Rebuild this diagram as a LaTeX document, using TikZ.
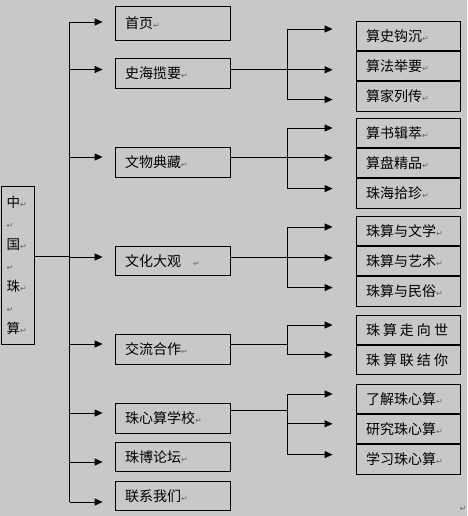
\documentclass[tikz,border=0pt]{standalone}
\usepackage{fontspec}
\usepackage{xcolor}
\usepackage{tikz}
\usetikzlibrary{arrows.meta, positioning}

\newfontfamily\cjk{Noto Sans CJK SC}
\newfontfamily\markfont{DejaVu Sans}
\definecolor{bggray}{RGB}{200,200,200}
\definecolor{markgray}{RGB}{105,105,105}
\newcommand{\ret}{{\markfont\fontsize{8}{8}\selectfont\color{markgray}↵}}

\begin{document}
\begin{tikzpicture}[x=1pt, y=-1pt,
    mainbox/.style={rectangle, draw=black, line width=0.8pt, text width=95pt, inner xsep=10pt, inner ysep=0pt, align=left, minimum height=29.5pt, font=\cjk\fontsize{14}{16}\selectfont},
    subbox/.style={mainbox, text width=84pt},
    rootbox/.style={rectangle, draw=black, line width=0.8pt, text width=22pt, inner xsep=5.5pt, inner ysep=0pt, align=left, minimum height=158pt, font=\cjk\fontsize{13.5}{21}\selectfont},
    line/.style={draw, line width=0.8pt},
    arr/.style={line, -{Triangle[length=8pt, width=7pt]}, shorten >=12pt},
    subarr/.style={arr, shorten >=23pt}]

    \fill [bggray] (0,0) rectangle (467,516);
    \useasboundingbox (0,0) rectangle (467,516);

    % root
    \node [rootbox] (root) at (17.5,265) {中\ret\\ \ret\\ 国\ret\\ \ret\\ 珠\ret\\ \ret\\ 算\ret};

    % main column
    \node [mainbox, minimum height=34pt] (home) at (172.5,23) {首页\ret};
    \node [mainbox] (hist) at (172.5,73.5) {史海揽要\ret};
    \node [mainbox] (relic) at (172.5,162.5) {文物典藏\ret};
    \node [mainbox] (culture) at (172.5,261) {文化大观\hspace{12pt}\ret};
    \node [mainbox] (exch) at (172.5,349.5) {交流合作\ret};
    \node [mainbox] (school) at (172.5,418.5) {珠心算学校\ret};
    \node [mainbox] (forum) at (172.5,457) {珠博论坛\ret};
    \node [mainbox] (contact) at (172.5,496) {联系我们\ret};

    % sub columns
    \node [subbox] (g1a) at (408,35.75) {算史钩沉\ret};
    \node [subbox, below=0pt of g1a] (g1b) {算法举要\ret};
    \node [subbox, below=0pt of g1b] (g1c) {算家列传\ret};

    \node [subbox] (g2a) at (408,132.75) {算书辑萃\ret};
    \node [subbox, below=0pt of g2a] (g2b) {算盘精品\ret};
    \node [subbox, below=0pt of g2b] (g2c) {珠海拾珍\ret};

    \node [subbox] (g3a) at (408,230.75) {珠算与文学\ret};
    \node [subbox, below=0pt of g3a] (g3b) {珠算与艺术\ret};
    \node [subbox, below=0pt of g3b] (g3c) {珠算与民俗\ret};

    \node [subbox] (g4a) at (408,329.75) {珠\hspace{3pt}算\hspace{3pt}走\hspace{3pt}向\hspace{3pt}世};
    \node [subbox, below=0pt of g4a] (g4b) {珠\hspace{3pt}算\hspace{3pt}联\hspace{3pt}结\hspace{3pt}你};

    \node [subbox] (g5a) at (408,398.75) {了解珠心算\ret};
    \node [subbox, below=0pt of g5a] (g5b) {研究珠心算\ret};
    \node [subbox, below=0pt of g5b] (g5c) {学习珠心算\ret};

    \node [inner sep=0pt] (endmark) at (463,509) {\ret};

    % trunks
    \coordinate (tx) at (69.5,0);
    \coordinate (sx) at (287,0);

    \path [line] ([yshift=9pt]root.east) -- ([yshift=9pt]root.east -| tx);
    \path [line] ([yshift=1pt]home.west -| tx) -- ([yshift=-6pt]contact.west -| tx);
    \foreach \n/\d in {home/1, hist/4, relic/5.5, culture/4, exch/5.5, school/5.5, forum/-5, contact/-6}
        \path [arr] ([yshift=\d pt]\n.west -| tx) -- ([yshift=\d pt]\n.west);

    % branches to sub columns
    \foreach \n/\d in {hist/4.5, relic/5.5, culture/4, exch/5.5, school/8.5}
        \path [line] ([yshift=\d pt]\n.east) -- ([yshift=\d pt]\n.east -| sx);
    \path [line] ([yshift=6.75pt]g1a.west -| sx) -- ([yshift=-3.25pt]g1c.west -| sx);
    \path [line] ([yshift=4.75pt]g2a.west -| sx) -- ([yshift=4.75pt]g2c.west -| sx);
    \path [line] ([yshift=3.75pt]g3a.west -| sx) -- ([yshift=3.75pt]g3c.west -| sx);
    \path [line] ([yshift=4.75pt]g4a.west -| sx) -- ([yshift=5.25pt]g4b.west -| sx);
    \path [line] ([yshift=4.75pt]g5a.west -| sx) -- ([yshift=4.75pt]g5c.west -| sx);
    \foreach \n/\d in {g1a/6.75, g1b/-3.75, g1c/-3.25, g2a/4.75, g2b/5.25, g2c/4.75, g3a/3.75, g3b/3.25, g3c/3.75, g4a/4.75, g4b/5.25, g5a/4.75, g5b/5.25, g5c/4.75}
        \path [subarr] ([yshift=\d pt]\n.west -| sx) -- ([yshift=\d pt]\n.west);
\end{tikzpicture}
\end{document}
